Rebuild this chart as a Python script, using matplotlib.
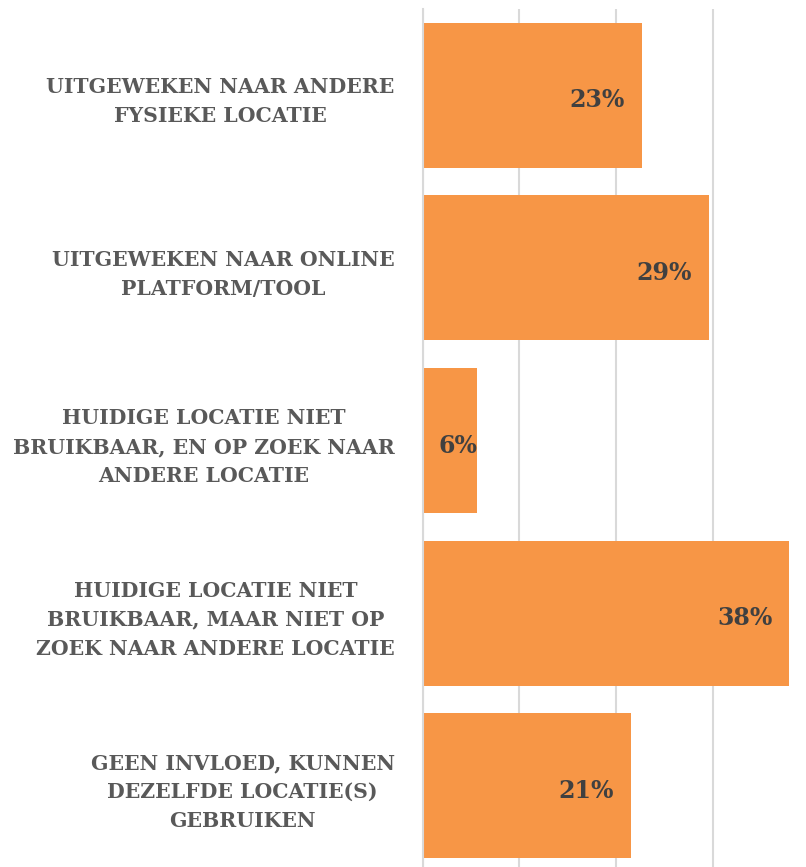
import matplotlib
matplotlib.use("Agg")
import matplotlib.pyplot as plt
from matplotlib.ticker import MultipleLocator

categories = [
    "UITGEWEKEN NAAR ANDERE\nFYSIEKE LOCATIE",
    "UITGEWEKEN NAAR ONLINE\nPLATFORM/TOOL",
    "HUIDIGE LOCATIE NIET\nBRUIKBAAR, EN OP ZOEK NAAR\nANDERE LOCATIE",
    "HUIDIGE LOCATIE NIET\nBRUIKBAAR, MAAR NIET OP\nZOEK NAAR ANDERE LOCATIE",
    "GEEN INVLOED, KUNNEN\nDEZELFDE LOCATIE(S)\nGEBRUIKEN",
]
values = [0.226, 0.295, 0.056, 0.378, 0.215]
labels = ["23%", "29%", "6%", "38%", "21%"]

bar_color = "#F79646"
font = ["DejaVu Serif"]

fig = plt.figure(figsize=(8.06, 8.67), dpi=100)
ax = fig.add_axes([422.5 / 806, -5 / 867, 1 - 422.5 / 806, (867 - 9 + 5) / 867])

ypos = list(range(len(categories)))
ax.barh(ypos, values, height=0.84, color=bar_color, zorder=2)
ax.set_ylim(len(categories) - 0.5, -0.5)
ax.set_xlim(0, 0.3954)
ax.xaxis.set_major_locator(MultipleLocator(0.1))
ax.grid(axis="x", color="#D9D9D9", linewidth=1.5, zorder=0)
ax.set_axisbelow(True)
for s in ["top", "right", "bottom"]:
    ax.spines[s].set_visible(False)
ax.spines["left"].set_color("#D9D9D9")
ax.spines["left"].set_linewidth(1.5)
ax.tick_params(axis="x", length=0, labelbottom=False)
ax.tick_params(axis="y", length=0, pad=20)
ax.set_yticks(ypos)
ax.set_yticklabels(categories, fontfamily=font, fontweight="bold", fontsize=14.7,
                   color="#595959", multialignment="center", linespacing=1.56)

for y, v, t in zip(ypos, values, labels):
    if v < 0.1:
        ax.text(v / 2 + 0.009, y + 0.03, t, ha="center", va="center", fontfamily=font,
                fontweight="bold", fontsize=17, color="#404040", zorder=3)
    else:
        ax.annotate(t, xy=(v, y + 0.03), xytext=(-12, 0), textcoords="offset points",
                    ha="right", va="center", fontfamily=font, fontweight="bold",
                    fontsize=17, color="#404040", zorder=3)

fig.savefig("out.png", dpi=100)
